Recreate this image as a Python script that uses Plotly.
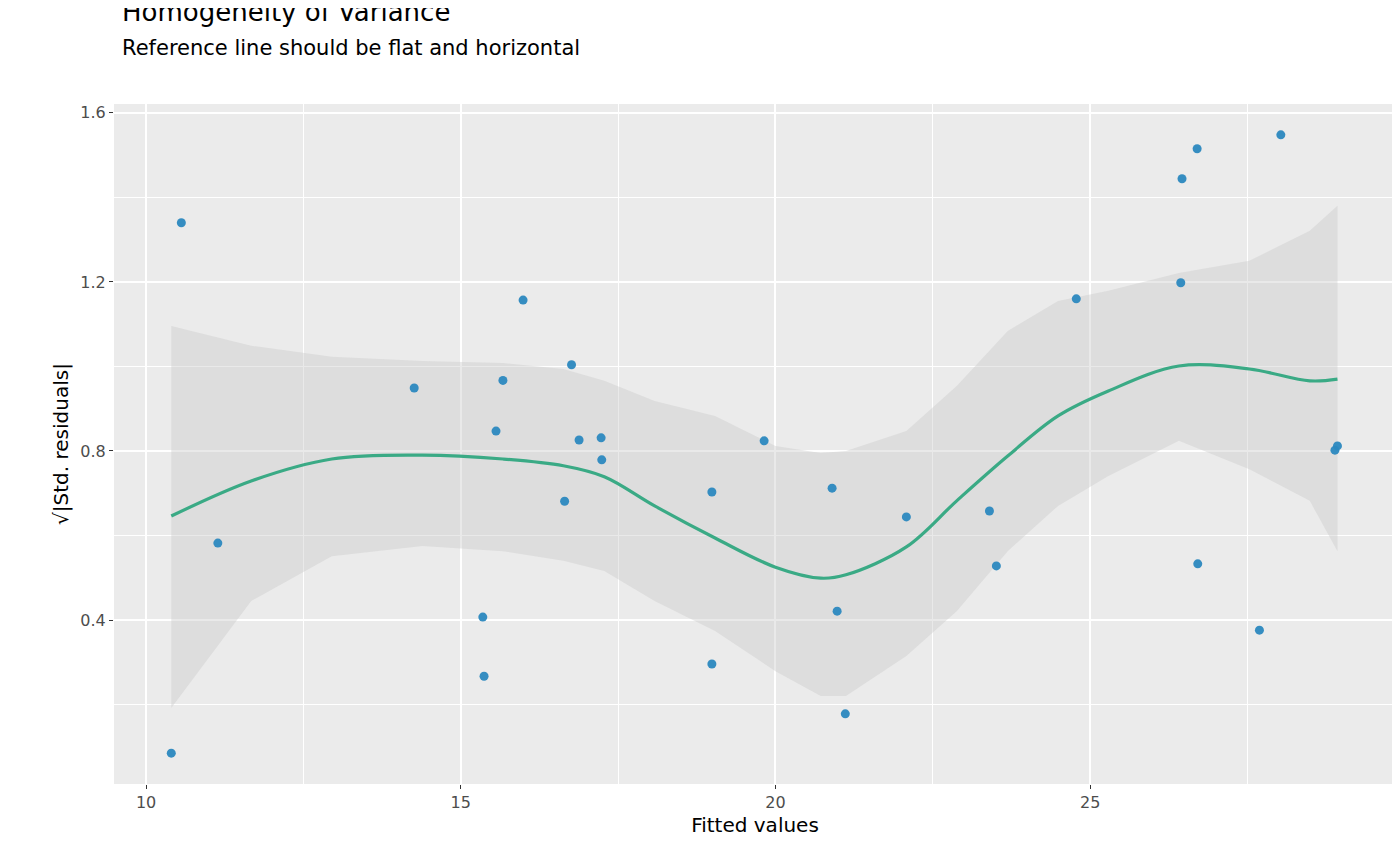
import plotly.graph_objects as go

fitted = [10.40, 10.56, 11.14, 14.26, 15.35, 15.37, 15.56, 15.67, 15.99, 16.65, 16.76,
          16.88, 17.23, 17.24, 18.99, 18.99, 19.82, 20.90, 20.98, 21.11, 22.08, 23.40,
          23.51, 24.78, 26.44, 26.46, 26.70, 26.71, 27.69, 28.03, 28.89, 28.93]
resid = [0.085, 1.340, 0.582, 0.949, 0.407, 0.267, 0.847, 0.967, 1.157, 0.681, 1.004,
         0.826, 0.831, 0.779, 0.703, 0.296, 0.824, 0.712, 0.421, 0.178, 0.644, 0.658,
         0.528, 1.160, 1.198, 1.444, 1.515, 0.533, 0.376, 1.548, 0.802, 0.812]

sx = [10.40, 11.67, 12.95, 14.39, 15.67, 16.63, 17.28, 18.08, 19.04, 20.0, 20.72,
      21.12, 22.08, 22.88, 23.69, 24.49, 25.29, 26.41, 27.53, 28.49, 28.93]
sy = [0.646, 0.729, 0.781, 0.790, 0.781, 0.765, 0.739, 0.670, 0.594, 0.525, 0.499,
      0.507, 0.573, 0.682, 0.788, 0.883, 0.942, 1.001, 0.994, 0.966, 0.970]
upper = [1.096, 1.049, 1.023, 1.013, 1.008, 0.994, 0.966, 0.918, 0.883, 0.812, 0.795,
         0.800, 0.847, 0.954, 1.084, 1.155, 1.179, 1.221, 1.250, 1.321, 1.380]
lower = [0.192, 0.445, 0.551, 0.575, 0.563, 0.540, 0.516, 0.445, 0.374, 0.279, 0.220,
         0.220, 0.315, 0.421, 0.563, 0.670, 0.741, 0.824, 0.757, 0.682, 0.563]

fig = go.Figure()
fig.add_trace(go.Scatter(x=sx + sx[::-1], y=upper + lower[::-1], fill="toself",
                         fillcolor="rgba(200,200,200,0.4)", line=dict(width=0),
                         hoverinfo="skip"))
fig.add_trace(go.Scatter(x=sx, y=sy, mode="lines", line=dict(color="#3aaa85", width=3.2, shape="spline")))
fig.add_trace(go.Scatter(x=fitted, y=resid, mode="markers",
                         marker=dict(color="#2b88bf", size=9, opacity=0.95)))

axis = dict(showgrid=True, gridcolor="white", gridwidth=1.8, zeroline=False,
            ticks="outside", ticklen=4, tickcolor="#333", showline=False,
            tickfont=dict(size=16, color="#4d4d4d"),
            minor=dict(showgrid=True, gridcolor="white", gridwidth=0.8))
fig.update_xaxes(axis, range=[9.49, 29.86], tickvals=[10, 15, 20, 25],
                 minor_dtick=2.5, minor_tick0=7.5,
                 title=dict(text="Fitted values", font=dict(size=20, color="black"), standoff=6))
fig.update_yaxes(axis, range=[0.012, 1.621], tickvals=[0.4, 0.8, 1.2, 1.6],
                 tickformat=".1f", minor_dtick=0.4, minor_tick0=0.2,
                 title=dict(text="√|Std. residuals|", font=dict(size=20, color="black"), standoff=6))
fig.update_layout(
    width=1400, height=866, showlegend=False,
    plot_bgcolor="#EBEBEB", paper_bgcolor="white",
    font=dict(family="DejaVu Sans"),
    margin=dict(l=106, r=12, t=96, b=90),
    title=dict(text="Homogeneity of Variance<br><span style='font-size:21px'>Reference line should be flat and horizontal</span>",
               x=114 / 1400, xanchor="left", y=0.985, yanchor="top", font=dict(size=26, color="black")),
)
fig.write_html("out.html")
